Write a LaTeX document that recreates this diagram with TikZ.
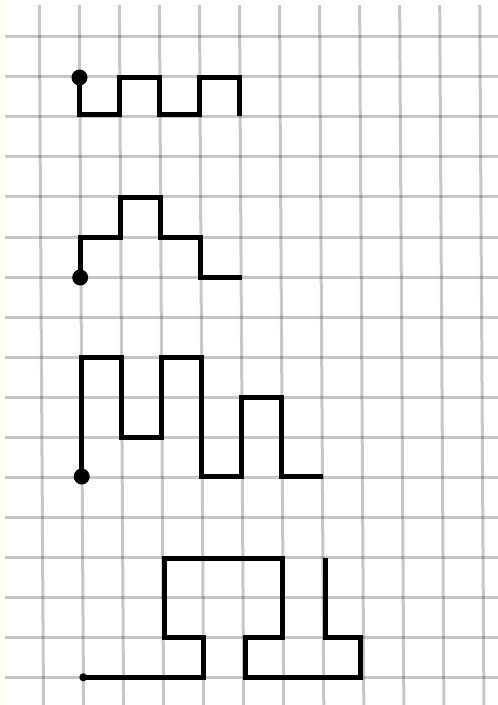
\documentclass[tikz,border=0pt]{standalone}
\usepackage{tikz}
\definecolor{cream}{RGB}{255,255,238}
\begin{document}
\begin{tikzpicture}[x=1pt,y=-1pt,
  gridline/.style={draw=black,draw opacity=0.22,line width=3pt},
  trail/.style={draw=black,line width=5pt,line join=miter,line cap=butt},
  bigdot/.style={circle,fill=black,inner sep=0pt,minimum size=16pt},
  smalldot/.style={circle,fill=black,inner sep=0pt,minimum size=8pt}]
\useasboundingbox (0,0) rectangle (498,705);
\fill[white] (0,0) rectangle (498,705);
\fill[cream] (0,0) rectangle (5,705);
% vertical grid lines (slightly slanted as in the reference)
\foreach \k in {0,...,11}{
  \draw[gridline] ({39.3+40.04*\k},5) -- ({43.5+40.04*\k},705);
}
% horizontal grid lines
\foreach \r in {0,...,16}{
  \draw[gridline] (5,{36.7+40.06*\r}) -- (498,{36.7+40.06*\r});
}
% path 1
\node[bigdot] (d1) at (79.5,77.5) {};
\draw[trail] (d1.center) -- (79.5,114) -- (119.5,114) -- (119.5,77.5) -- (159.5,77.5)
  -- (159.5,114) -- (199.5,114) -- (199.5,77.5) -- (239.5,77.5) -- (239.5,116);
% path 2
\node[bigdot] (d2) at (80.2,277.5) {};
\draw[trail] (d2.center) -- (80.2,237) -- (120.5,237) -- (120.5,197) -- (160.5,197)
  -- (160.5,237) -- (200.8,237) -- (200.8,277.5) -- (242,277.5);
% path 3
\node[bigdot] (d3) at (81.7,476.5) {};
\draw[trail] (d3.center) -- (81.7,357.5) -- (121.5,357.5) -- (121.5,437) -- (161.5,437)
  -- (161.5,357.5) -- (201.7,357.5) -- (201.7,476.5) -- (241.5,476.5) -- (241.5,397)
  -- (281.5,397) -- (281.5,476.5) -- (323,476.5);
% path 4
\node[smalldot] (d4) at (83.3,677.3) {};
\draw[trail] (d4.center) -- (203.3,677.3) -- (203.3,637) -- (164,637) -- (164,558)
  -- (282.7,558) -- (282.7,637) -- (245,637) -- (245,677.3) -- (360.5,677.3)
  -- (360.5,637) -- (325,637) -- (325,558);
\end{tikzpicture}
\end{document}
